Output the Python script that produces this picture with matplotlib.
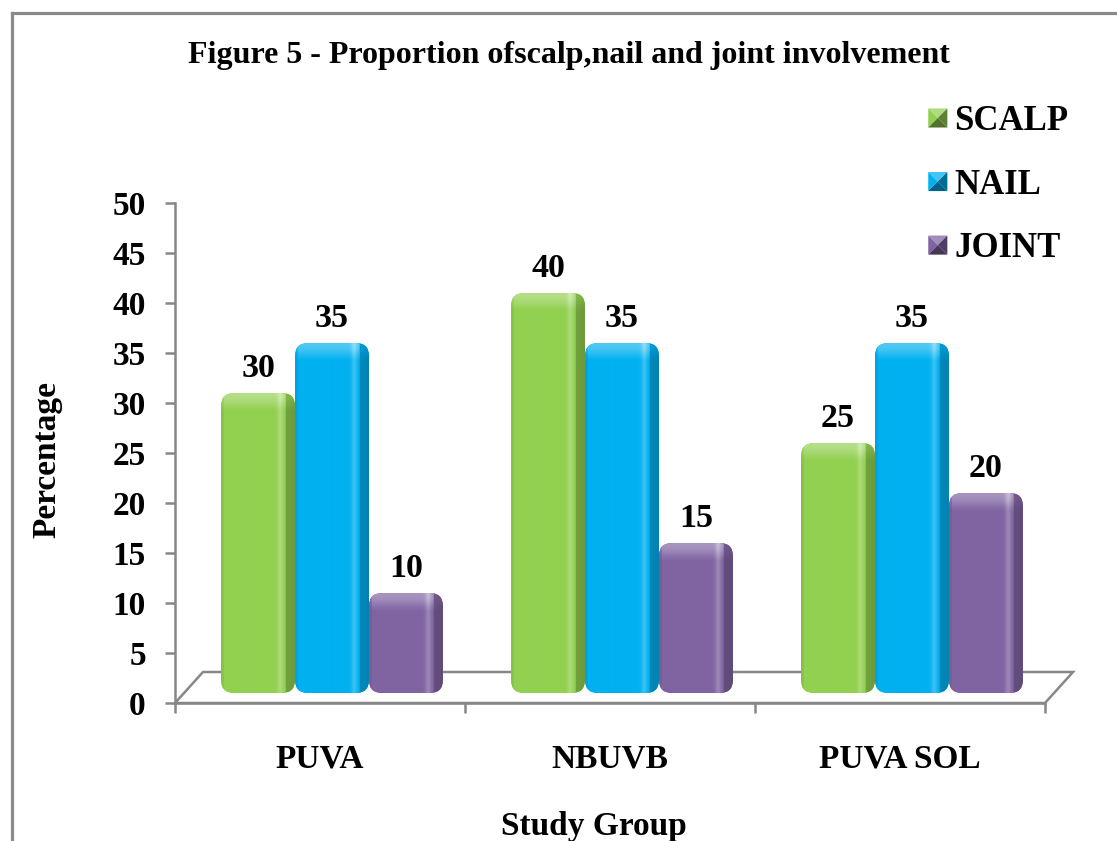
import numpy as np
import matplotlib
matplotlib.use("Agg")
import matplotlib.pyplot as plt
from matplotlib.patches import FancyBboxPatch, Polygon, Patch
from matplotlib.lines import Line2D
from matplotlib.transforms import ScaledTranslation
from matplotlib.legend_handler import HandlerBase
from matplotlib.colors import to_rgb

# ---- data -------------------------------------------------------------
groups = ["PUVA", "NBUVB", "PUVA SOL"]
series_names = ["SCALP", "NAIL", "JOINT"]
scalp = [30, 40, 25]
nail = [35, 35, 35]
joint = [10, 15, 20]
series_values = [scalp, nail, joint]
series_colors = ["#92D050", "#00B0F0", "#8064A2"]
y_ticks = list(range(0, 51, 5))

title = "Figure 5 - Proportion ofscalp,nail and joint involvement"
x_title = "Study Group"
y_title = "Percentage"

# ---- style ------------------------------------------------------------
plt.rcParams["font.family"] = ["Liberation Serif", "DejaVu Serif"]
plt.rcParams["font.weight"] = "bold"
AXIS_GRAY = "#878787"

W, H = 1117, 841
DPI = 100
fig = plt.figure(figsize=(W / DPI, H / DPI), dpi=DPI)
ax = fig.add_axes([175 / W, 138 / H, 870 / W, 500 / H])
ax.set_xlim(-0.5, 2.5)
ax.set_ylim(0, 50)
ax.patch.set_visible(False)

# pixel scale of the data axes
px_x = ax.bbox.width / 3.0
px_y = ax.bbox.height / 50.0

# floor depth (back edge) and bar placement at mid-depth, in data units
floor_dx, floor_dy = 28 / px_x, 31 / px_y
bar_dx, bar_dy = 12 / px_x, 10 / px_y

# ---- floor ------------------------------------------------------------
floor = Polygon([(-0.5, 0), (2.5, 0), (2.5 + floor_dx, floor_dy), (-0.5 + floor_dx, floor_dy)],
                closed=True, facecolor="white", edgecolor=AXIS_GRAY, linewidth=1.8,
                clip_on=False, zorder=1)
ax.add_patch(floor)


def shade(c, f):
    c = np.asarray(c)
    if f <= 1:
        return c * f
    return c + (1 - c) * min(1.0, (f - 1) * 2.2)


def bar_image(color, n_rows, n_cols=80, cap_px=18):
    base = np.array(to_rgb(color))
    t = (np.arange(n_cols) + 0.5) / n_cols
    prof = np.ones(n_cols)
    prof[t < 0.04] = 0.93
    prof += 0.10 * np.exp(-((t - 0.80) / 0.04) ** 2)
    side = t > 0.88
    prof[side] = 0.74 + 0.04 * (1 - (t[side] - 0.88) / 0.12)
    img = np.zeros((n_rows, n_cols, 3))
    cap = min(cap_px, max(n_rows // 3, 1))
    for i in range(n_rows):
        if i < cap:
            u = i / cap
            k = 1.0 + 0.14 * np.cos(u * np.pi / 2) ** 1.5
        else:
            k = 1.0
        for j in range(n_cols):
            img[i, j, :] = shade(base, prof[j] * k)
    return np.clip(img, 0, 1)


# ---- bars -------------------------------------------------------------
bar_w = 0.255
radius_px = 13
for k, (vals, col) in enumerate(zip(series_values, series_colors)):
    for g, v in enumerate(vals):
        x0 = g + (k - 1) * bar_w - bar_w / 2 + bar_dx
        patch = FancyBboxPatch((x0, bar_dy), bar_w, v,
                               boxstyle=f"round,pad=0,rounding_size={radius_px / px_x}",
                               mutation_aspect=px_x / px_y,
                               facecolor=col, edgecolor="none", zorder=3, clip_on=False)
        ax.add_patch(patch)
        n_rows = max(int(round(v * px_y)), 4)
        im = ax.imshow(bar_image(col, n_rows), extent=(x0, x0 + bar_w, bar_dy, bar_dy + v),
                       origin="upper", aspect="auto", interpolation="bilinear", zorder=4)
        im.set_clip_path(patch)
        ax.text(x0 + bar_w / 2, bar_dy + v,
                str(v), ha="center", va="baseline", fontsize=24.5,
                transform=ax.transData + ScaledTranslation(0, 16 / DPI, fig.dpi_scale_trans),
                zorder=6)

ax.set_xlim(-0.5, 2.5)
ax.set_ylim(0, 50)

# ---- axes -------------------------------------------------------------
for s in ("top", "right"):
    ax.spines[s].set_visible(False)
for s in ("left", "bottom"):
    ax.spines[s].set_color(AXIS_GRAY)
    ax.spines[s].set_linewidth(1.8)
    ax.spines[s].set_zorder(2)

ax.set_yticks(y_ticks)
ax.set_yticklabels([str(t) for t in y_ticks])
ax.tick_params(axis="y", length=7, width=1.8, color=AXIS_GRAY, pad=14, labelsize=24)

ax.set_xticks(range(len(groups)))
ax.set_xticklabels(groups)
ax.set_xticks([-0.5, 0.5, 1.5, 2.5], minor=True)
ax.tick_params(axis="x", which="major", length=0, pad=29, labelsize=24)
ax.tick_params(axis="x", which="minor", length=7, width=1.8, color=AXIS_GRAY)

# ---- titles -----------------------------------------------------------
fig.text(569 / W, 1 - 55 / H, title, ha="center", va="center", fontsize=23)
fig.text(47 / W, 1 - 460 / H, y_title, rotation=90, ha="center", va="center", fontsize=24)
fig.text(594 / W, 1 - 827 / H, x_title, ha="center", va="center", fontsize=24)


# ---- legend with bevelled swatches ------------------------------------
class BevelHandler(HandlerBase):
    def create_artists(self, legend, orig_handle, xdescent, ydescent,
                       width, height, fontsize, trans):
        s = min(width, height)
        x0 = -xdescent + (width - s) / 2
        y0 = -ydescent + (height - s) / 2
        c = np.array(to_rgb(orig_handle.get_facecolor()))
        tl, tr = (x0, y0 + s), (x0 + s, y0 + s)
        bl, br = (x0, y0), (x0 + s, y0)
        cc = (x0 + s / 2, y0 + s / 2)
        faces = [((tl, tr, cc), shade(c, 1.12)),
                 ((tl, bl, cc), shade(c, 1.0)),
                 ((tr, br, cc), shade(c, 0.62)),
                 ((bl, br, cc), shade(c, 0.55))]
        arts = []
        for pts, fc in faces:
            p = Polygon(pts, closed=True, facecolor=np.clip(fc, 0, 1),
                        edgecolor="none", transform=trans)
            arts.append(p)
        return arts


handles = [Patch(facecolor=c) for c in series_colors]
fig.legend(handles, series_names, loc="upper left",
           bbox_to_anchor=(897 / W, 1 - 74 / H), frameon=False, fontsize=25,
           handlelength=0.55, handleheight=0.55, handletextpad=0.2, labelspacing=0.88,
           handler_map={Patch: BevelHandler()})

# ---- outer frame ------------------------------------------------------
fig.add_artist(Line2D([11.5 / W, 11.5 / W], [0, 1 - 13 / H], transform=fig.transFigure,
                      color="#8a8a8a", linewidth=2.3, solid_capstyle="projecting"))
fig.add_artist(Line2D([11.5 / W, 1], [1 - 13 / H, 1 - 13 / H], transform=fig.transFigure,
                      color="#8a8a8a", linewidth=2.3, solid_capstyle="projecting"))

fig.savefig("out.png", dpi=DPI, facecolor="white")
